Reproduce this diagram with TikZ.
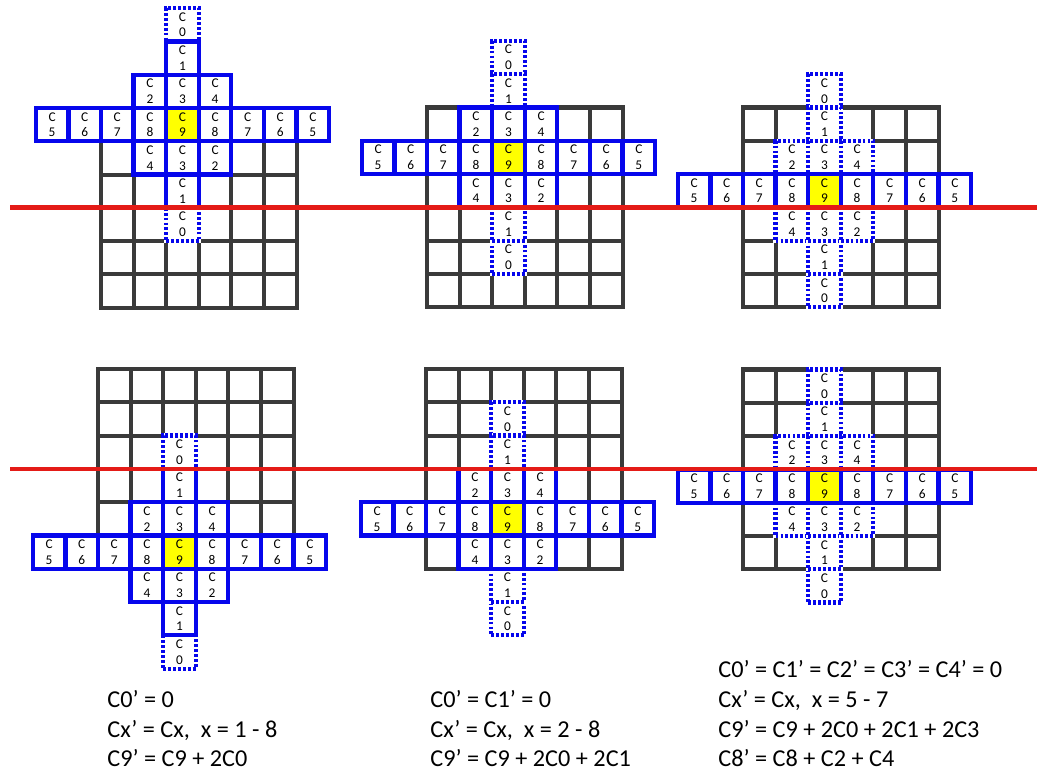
\documentclass[tikz,border=0pt]{standalone}
\usepackage{fontspec}
\setmainfont{Carlito}
\usetikzlibrary{calc}
\definecolor{gridgray}{HTML}{3A3A3A}
\definecolor{stencilblue}{HTML}{0606EC}
\definecolor{boundred}{HTML}{E41B17}
\definecolor{centeryellow}{HTML}{FFFF00}

% cells of the cross above and below C9: dx/dy/label/level
\def\crosscells{0/3/0/1, 0/-3/0/1, 0/2/1/2, 0/-2/1/2, -1/1/2/3, 0/1/3/3, 1/1/4/3, -1/-1/4/3, 0/-1/3/3, 1/-1/2/3}

% #1 name, #2 grid left, #3 grid top, #4 row of C9, #5 levels drawn dotted
\newcommand{\stencilpanel}[5]{%
  \begin{scope}[shift={(#2,#3)}, x=0.652cm, y=-0.666cm]
    % 6x6 grid
    \foreach \i in {0,...,6} {
      \draw[gridline] (\i,0) -- (\i,6);
      \draw[gridline] (0,\i) -- (6,\i);
    }
    % dotted cells first
    \foreach \dx/\dy/\lab/\lv in \crosscells {
      \ifnum\lv>#5\relax\else
        \node[dotcell] (#1-\dx-\dy) at ({2.5+\dx},{#4+0.5-\dy}) {C\\\lab};
      \fi
    }
    % solid cells on top
    \foreach \dx/\dy/\lab/\lv in \crosscells {
      \ifnum\lv>#5\relax
        \node[cell] (#1-\dx-\dy) at ({2.5+\dx},{#4+0.5-\dy}) {C\\\lab};
      \fi
    }
    \foreach \dx/\lab in {-4/5,-3/6,-2/7,-1/8,1/8,2/7,3/6,4/5}
      \node[cell] (#1-\dx-0) at ({2.5+\dx},{#4+0.5}) {C\\\lab};
    \node[cell, fill=centeryellow] (#1-c9) at (2.5,{#4+0.5}) {C\\9};
  \end{scope}}

\begin{document}
\begin{tikzpicture}[
    x=0.02cm, y=-0.02cm,
    gridline/.style={draw=gridgray, line width=2.3pt, line cap=rect},
    cell/.style={draw=stencilblue, fill=white, line width=2.4pt, minimum width=0.652cm, minimum height=0.666cm, inner sep=0pt, align=center, font=\fontsize{7.6}{9}\selectfont},
    dotcell/.style={cell, dash pattern=on 1.6pt off 1.2pt, preaction={draw=white, solid, line width=2.4pt}},
    boundary/.style={draw=boundred, line width=2.7pt},
    formula/.style={anchor=base west, inner sep=0pt, font=\fontsize{13.8}{16}\selectfont}
]
    \useasboundingbox (0,0) rectangle (1037,772);

    % Top row: boundary below C9
    \stencilpanel{ta}{101}{108}{0}{1}
    \stencilpanel{tb}{427}{107.5}{1}{2}
    \stencilpanel{tc}{743}{107.5}{2}{3}

    % Bottom row: boundary above C9
    \stencilpanel{ba}{98}{369}{5}{1}
    \stencilpanel{bb}{426}{369}{4}{2}
    \stencilpanel{bc}{743}{369.5}{3}{3}

    % Boundaries
    \draw[boundary] (10,207.5) -- (1037,207.5);
    \draw[boundary] (10,469) -- (1037,469);

    % Update rules
    \node[formula] (ra1) at (107,707) {C0’ = 0};
    \node[formula] (ra2) at (107,737) {Cx’ = Cx,\ \ x = 1 - 8};
    \node[formula] (ra3) at (107,766) {C9’ = C9 + 2C0};

    \node[formula] (rb1) at (430,707) {C0’ = C1’ = 0};
    \node[formula] (rb2) at (430,737) {Cx’ = Cx,\ \ x = 2 - 8};
    \node[formula] (rb3) at (430,766) {C9’ = C9 + 2C0 + 2C1};

    \node[formula] (rc1) at (718,677) {C0’ = C1’ = C2’ = C3’ = C4’ = 0};
    \node[formula] (rc2) at (718,707) {Cx’ = Cx,\ \ x = 5 - 7};
    \node[formula] (rc3) at (718,737) {C9’ = C9 + 2C0 + 2C1 + 2C3};
    \node[formula] (rc4) at (718,766) {C8’ = C8 + C2 + C4};
\end{tikzpicture}
\end{document}
